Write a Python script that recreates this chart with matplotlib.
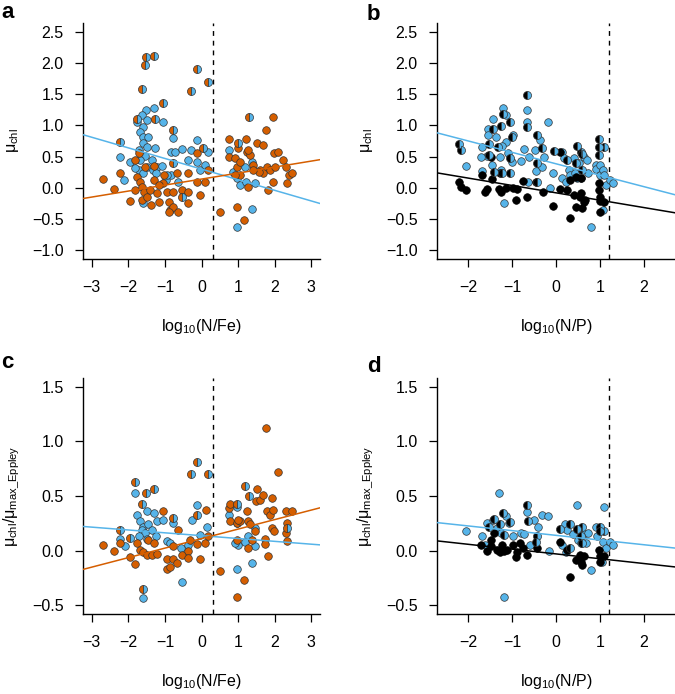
import numpy as np
import matplotlib.pyplot as plt

plt.rcParams['font.family'] = ['Liberation Sans', 'DejaVu Sans']
plt.rcParams['mathtext.fontset'] = 'custom'
plt.rcParams['mathtext.rm'] = 'Liberation Sans'

ORANGE = '#D55E00'
BLUE = '#56B4E9'
BLACK = '#000000'

# --- data (x, y) ---
# panel a: mu_chl vs log10(N/Fe)
a_split = [(-1.51, 2.10), (-1.30, 2.11), (-1.55, 1.97), (-1.63, 1.59), (-0.13, 1.91), (0.19, 1.69),
           (-0.29, 1.55), (-1.04, 1.36), (-1.26, 1.10), (-1.75, 1.10), (-0.77, 0.93), (1.31, 1.13),
           (-2.24, 0.74), (0.99, 0.72), (-0.77, 0.39), (-0.54, -0.15), (0.05, 0.64)]
a_blue = [(-1.52, 1.25), (-1.63, 1.17), (-1.31, 1.28), (-1.77, 1.06), (-1.50, 1.09), (-1.61, 0.98),
          (-1.68, 0.90), (-1.59, 0.82), (-1.45, 0.82), (-1.61, 0.72), (-1.50, 0.66), (-1.70, 0.60),
          (-1.54, 0.51), (-1.27, 0.64), (-1.36, 0.44), (-1.68, 0.45), (-1.50, 0.34), (-1.33, 0.29),
          (-1.22, 0.34), (-1.09, 0.35), (-1.72, 0.29), (-1.59, 0.24), (-1.24, 0.23), (-2.23, 0.50),
          (-1.95, 0.42), (-2.11, 0.13), (-1.81, 0.32), (-1.04, 1.05), (-0.77, 0.80), (-0.83, 0.57),
          (-0.72, 0.57), (-0.54, 0.62), (-0.29, 0.61), (-0.13, 0.76), (-0.13, 0.42), (-0.36, 0.45),
          (-0.04, 0.28), (0.10, 0.36), (0.19, 0.58), (-0.97, 0.13), (-0.84, 0.21), (-0.95, 0.20),
          (-0.63, 0.10), (-1.61, -0.25), (0.74, 0.61), (0.87, 0.25), (0.98, 0.16), (1.04, 0.05),
          (1.18, 0.33), (1.22, 0.10), (1.38, 0.42), (1.47, 0.08), (1.38, -0.34), (0.98, -0.62)]
a_orange = [(-2.70, 0.14), (-2.38, -0.02), (-2.23, 0.24), (-1.95, -0.21), (-1.81, -0.04), (-1.77, 0.18),
            (-1.68, 0.10), (-1.63, 0.02), (-1.57, -0.06), (-1.63, -0.19), (-1.50, -0.14), (-1.40, -0.03),
            (-1.31, 0.13), (-1.22, -0.08), (-1.39, -0.27), (-1.15, -0.23), (-1.04, 0.08), (-0.95, -0.06),
            (-0.90, -0.22), (-0.86, -0.35), (-0.77, -0.30), (-0.90, -0.38), (-0.63, -0.39), (-0.77, -0.06),
            (-0.54, -0.03), (-0.36, -0.06), (-0.36, -0.24), (-0.36, 0.23), (-0.13, 0.10), (-0.04, -0.11),
            (-0.13, 0.55), (0.10, 0.10), (0.19, 0.28), (-1.02, 0.21), (-1.31, 0.35), (-1.81, 0.45),
            (-1.72, 0.56), (-1.54, 0.34), (-1.15, 0.05), (-0.68, 0.24), (0.51, -0.38), (0.74, 0.78),
            (0.74, 0.50), (0.92, 0.48), (0.96, 0.34), (1.05, 0.42), (1.05, 0.21), (0.92, 0.21),
            (1.22, 0.78), (1.24, 0.58), (1.33, 0.53), (1.42, 0.37), (1.51, 0.72), (1.60, 0.29),
            (1.69, 0.68), (1.77, 0.93), (1.79, 0.34), (1.88, 0.29), (1.95, 0.10), (1.97, 0.56),
            (1.95, 1.14), (2.10, 0.58), (2.24, 0.45), (2.31, 0.34), (2.38, 0.21), (2.33, 0.08),
            (2.47, 0.24), (1.28, 0.02), (1.83, -0.04), (0.98, -0.30), (1.15, -0.51), (1.28, 0.61),
            (0.99, 0.64), (1.69, 0.24), (2.01, 0.34), (1.56, 0.26), (1.42, 0.29)]

# panel b: mu_chl vs log10(N/P)
b_split = [(-0.66, 1.48), (-1.21, 1.19), (-1.25, 0.99), (-1.04, 1.06), (-0.67, 0.97), (-1.00, 0.82),
           (-0.43, 0.85), (-0.31, 0.64), (-1.43, 0.95), (-1.53, 0.70), (-2.21, 0.70), (-2.17, 0.61),
           (-1.32, 0.66), (-0.44, 0.40), (-0.05, 0.59), (0.24, 0.45), (0.47, 0.67), (0.56, 0.58),
           (0.59, 0.29), (0.99, 0.78), (0.99, 0.66), (0.99, 0.53), (1.09, 0.66), (-0.43, 0.10),
           (-1.23, 0.23), (-1.04, 0.24), (-1.42, 0.26), (0.46, 0.40), (0.59, 0.54), (-1.53, 0.53),
           (-1.05, 0.48)]
b_blue = [(-0.66, 1.25), (-0.66, 1.05), (-1.20, 1.28), (-1.15, 1.17), (-1.44, 1.10), (-1.55, 0.94),
          (-1.55, 0.85), (-1.36, 0.81), (-0.97, 0.85), (-0.19, 1.06), (-1.15, 0.73), (-1.24, 0.67),
          (-1.57, 0.51), (-1.28, 0.50), (-1.10, 0.56), (-0.74, 0.62), (-0.62, 0.50), (-0.48, 0.61),
          (-0.36, 0.77), (-0.28, 0.50), (-0.79, 0.43), (-1.00, 0.42), (-1.45, 0.37), (-1.70, 0.50),
          (-2.05, 0.35), (-1.68, 0.27), (-1.26, 0.29), (-0.46, 0.27), (-0.31, 0.34), (-0.06, 0.24),
          (0.14, 0.58), (0.18, 0.48), (0.13, 0.15), (0.22, 0.10), (0.30, 0.29), (0.32, 0.21),
          (0.41, 0.48), (0.43, 0.24), (0.52, 0.40), (0.48, 0.16), (0.58, 0.16), (0.63, 0.50),
          (0.71, 0.45), (0.72, 0.24), (0.91, 0.36), (0.92, 0.30), (1.01, 0.37), (1.01, 0.21),
          (1.07, 0.29), (1.09, 0.21), (1.13, 0.05), (1.23, 0.13), (1.29, 0.08), (1.07, -0.35),
          (-0.14, 0.00), (-1.19, -0.25), (0.80, -0.62), (-0.64, 0.10), (-1.68, 0.66)]
b_black = [(-2.21, 0.10), (-2.16, 0.01), (-2.06, -0.03), (-1.68, 0.20), (-1.57, -0.02), (-1.61, -0.06),
           (-1.45, 0.14), (-1.30, -0.02), (-1.26, -0.06), (-1.15, 0.00), (-0.97, 0.00), (-0.88, -0.02),
           (-0.90, -0.19), (-0.66, -0.14), (-0.75, 0.11), (-0.45, 0.09), (-0.30, -0.07), (-0.06, -0.29),
           (0.09, -0.02), (0.25, -0.04), (0.33, -0.48), (0.42, -0.11), (0.46, -0.31), (0.54, -0.14),
           (0.59, -0.32), (0.63, -0.22), (0.56, -0.09), (0.98, -0.03), (0.99, 0.08), (1.00, -0.14),
           (1.01, -0.21), (1.09, -0.22), (1.01, -0.38), (-1.49, 0.50), (-1.28, 0.23), (0.56, 0.16),
           (0.45, 0.18), (0.67, -0.19), (0.10, 0.58), (0.33, 0.13)]

# panel c: mu_chl / mu_max_Eppley vs log10(N/Fe)
c_split = [(-1.81, 0.63), (-1.53, 0.53), (-1.30, 0.56), (-1.63, 0.43), (-0.11, 0.81), (-0.29, 0.70),
           (0.19, 0.70), (-2.23, 0.19), (-0.77, 0.30), (-1.59, -0.35), (1.19, 0.59), (1.31, 0.50),
           (-0.13, 0.33), (-1.95, 0.12), (2.33, 0.21), (0.97, 0.43)]
c_blue = [(-1.81, 0.53), (-1.75, 0.33), (-1.68, 0.27), (-1.59, 0.22), (-1.50, 0.36), (-1.63, 0.19),
          (-1.54, 0.16), (-1.45, 0.24), (-1.36, 0.19), (-1.72, 0.13), (-1.50, 0.11), (-1.30, 0.34),
          (-1.22, 0.27), (-1.24, 0.13), (-1.04, 0.28), (-0.95, 0.09), (-0.86, 0.07), (-0.77, 0.25),
          (-2.23, 0.11), (-2.09, 0.04), (-0.57, 0.02), (-0.36, 0.05), (-0.27, 0.28), (-0.13, 0.42),
          (-0.04, 0.14), (0.14, 0.22), (-1.59, -0.43), (-0.54, -0.29), (0.74, 0.33), (0.97, 0.40),
          (0.98, 0.25), (1.01, 0.05), (0.92, 0.07), (1.28, 0.13), (1.19, 0.08), (1.47, 0.21),
          (1.47, 0.04), (1.38, -0.11), (0.97, -0.17)]
c_orange = [(-2.70, 0.05), (-2.38, 0.00), (-2.23, 0.07), (-1.95, -0.06), (-1.81, -0.12), (-1.75, 0.07),
            (-1.68, 0.01), (-1.59, -0.01), (-1.50, -0.04), (-1.36, -0.04), (-1.22, -0.03), (-1.45, 0.10),
            (-1.31, 0.07), (-1.04, 0.36), (-0.95, -0.08), (-0.95, -0.17), (-0.86, -0.15), (-0.77, -0.08),
            (-0.66, -0.11), (-0.77, 0.04), (-0.63, 0.19), (-0.54, -0.04), (-0.36, 0.00), (-0.36, -0.07),
            (-0.31, 0.10), (-0.13, 0.06), (-0.04, -0.08), (0.10, 0.07), (0.13, 0.37), (0.19, 0.13),
            (0.51, -0.19), (0.74, 0.39), (0.77, 0.27), (0.97, 0.25), (0.98, 0.10), (1.04, 0.27),
            (0.97, -0.42), (1.15, -0.27), (1.24, 0.36), (1.28, 0.27), (1.33, 0.24), (1.28, 0.02),
            (1.38, 0.10), (1.47, 0.18), (1.50, 0.45), (1.51, 0.56), (1.60, 0.46), (1.69, 0.51),
            (1.77, 1.12), (1.79, 0.36), (1.74, 0.11), (1.74, 0.06), (1.83, -0.05), (1.88, 0.33),
            (1.92, 0.48), (1.95, 0.37), (1.92, 0.21), (1.97, 0.18), (2.10, 0.72), (2.31, 0.36),
            (2.35, 0.25), (2.31, 0.16), (2.35, 0.09), (2.47, 0.36), (0.78, 0.43), (1.01, 0.28)]

# panel d: mu_chl / mu_max_Eppley vs log10(N/P)
d_split = [(-0.66, 0.42), (-1.21, 0.34), (-1.04, 0.26), (-1.42, 0.29), (-1.53, 0.22), (-1.27, 0.24),
           (-0.64, 0.27), (-0.44, 0.13), (-0.45, 0.08), (0.09, 0.20), (0.33, 0.24), (0.47, 0.20),
           (0.59, 0.22), (0.56, 0.13), (1.01, 0.22), (1.01, 0.18), (1.09, 0.18), (-1.19, 0.14),
           (0.33, 0.02), (0.59, 0.07)]
d_blue = [(-1.30, 0.53), (-2.04, 0.18), (-1.68, 0.13), (-1.57, 0.25), (-1.44, 0.28), (-1.35, 0.21),
          (-1.26, 0.16), (-1.15, 0.32), (-1.07, 0.25), (-0.99, 0.13), (-0.79, 0.16), (-0.73, 0.15),
          (-0.66, 0.35), (-0.49, 0.28), (-0.41, 0.22), (-0.31, 0.33), (-0.19, 0.32), (-0.15, 0.00),
          (-0.60, 0.05), (-1.61, 0.05), (-1.19, -0.42), (0.20, 0.24), (0.25, 0.19), (0.14, 0.05),
          (0.22, -0.01), (0.47, 0.42), (0.39, 0.15), (0.50, 0.10), (0.63, 0.15), (0.69, 0.07),
          (0.72, 0.16), (0.58, 0.07), (0.91, 0.22), (0.94, 0.13), (1.09, 0.40), (1.07, 0.08),
          (1.13, 0.02), (1.23, 0.08), (1.29, 0.05), (1.05, -0.10), (0.80, -0.18)]
d_black = [(-1.71, 0.05), (-1.57, 0.00), (-1.49, 0.04), (-1.42, 0.16), (-1.35, 0.01), (-1.28, -0.01),
           (-1.23, 0.05), (-1.19, 0.00), (-1.11, 0.01), (-0.99, 0.05), (-0.88, -0.01), (-0.90, -0.06),
           (-0.75, 0.02), (-0.66, -0.04), (-0.44, 0.02), (0.09, 0.08), (0.25, 0.01), (0.33, -0.24),
           (0.46, -0.09), (0.54, -0.04), (0.59, -0.13), (0.64, -0.05), (0.56, -0.10), (0.98, 0.01),
           (1.00, -0.05), (1.01, -0.10), (1.09, -0.05), (-0.81, 0.07), (-1.49, 0.10)]

# fitted lines (intercept, slope) and threshold lines
a_fit_blue, a_fit_orange = (0.30, -0.170), (0.14, 0.096)
b_fit_blue, b_fit_black = (0.385, -0.183), (-0.08, -0.118)
c_fit_blue, c_fit_orange = (0.137, -0.026), (0.11, 0.087)
d_fit_blue, d_fit_black = (0.14, -0.043), (-0.03, -0.044)
nfe_threshold = 0.32
np_threshold = 1.204

fe_ticks = [-3, -2, -1, 0, 1, 2, 3]
p_ticks = [-2, -1, 0, 1, 2]
top_yticks = [-1.0, -0.5, 0.0, 0.5, 1.0, 1.5, 2.0, 2.5]
bottom_yticks = [-0.5, 0.0, 0.5, 1.0, 1.5]

W, H = 675, 694
FS = 11.5
fig = plt.figure(figsize=(W / 100, H / 100), dpi=100)


def add_axes(left, top, right, bottom):
    return fig.add_axes([left / W, 1 - bottom / H, (right - left) / W, (bottom - top) / H])


def style_axes(ax, xticks, yticks, xlim, ylim, xlabel, ylabel):
    ax.set_xlim(*xlim)
    ax.set_ylim(*ylim)
    for s in ['top', 'right']:
        ax.spines[s].set_visible(False)
    for s in ['left', 'bottom']:
        ax.spines[s].set_linewidth(1.0)
    ax.set_xticks(xticks)
    ax.set_xticklabels([str(t).replace('-', '\u2212') for t in xticks])
    ax.set_yticks(yticks)
    ax.set_yticklabels([f'{t:.1f}'.replace('-', '\u2212') for t in yticks])
    ax.tick_params(axis='x', length=6, width=0.9, pad=9, labelsize=FS)
    ax.tick_params(axis='y', length=6, width=0.9, pad=8, labelsize=FS)
    ax.set_xlabel(xlabel, fontsize=FS)
    ax.set_ylabel(ylabel, fontsize=FS)
    ax.xaxis.set_label_coords(0.5, -0.245)
    ax.yaxis.set_label_coords(-0.262, 0.5)


def draw_points(ax, full_a, col_a, full_b, col_b, split, left_col):
    xs, ys = zip(*full_b)
    ax.scatter(xs, ys, s=30, c=col_b, edgecolors='#333333', linewidths=0.5, zorder=3)
    xs, ys = zip(*full_a)
    edge = '#333333' if col_a != BLACK else BLACK
    ax.scatter(xs, ys, s=30, c=col_a, edgecolors=edge, linewidths=0.5, zorder=4)
    xs, ys = zip(*split)
    ax.plot(xs, ys, 'o', ms=5.8, fillstyle='left', markerfacecolor=left_col,
            markerfacecoloralt=BLUE, markeredgecolor='#333333', markeredgewidth=0.5,
            linestyle='none', zorder=5)


def draw_fit(ax, fit, color):
    b0, b1 = fit
    ax.axline((0, b0), slope=b1, color=color, lw=1.1, zorder=6)


panels = [
    (add_axes(83, 23, 320, 259), a_orange, ORANGE, a_blue, a_split, ORANGE,
     a_fit_blue, a_fit_orange, nfe_threshold, fe_ticks, top_yticks, (-3.24, 3.24), (-1.14, 2.64),
     'log$_\\mathregular{10}$(N/Fe)', 'μ$_\\mathregular{chl}$', 'a', (1, 13)),
    (add_axes(437, 23, 675, 259), b_black, BLACK, b_blue, b_split, BLACK,
     b_fit_blue, b_fit_black, np_threshold, p_ticks, top_yticks, (-2.71, 2.71), (-1.14, 2.64),
     'log$_\\mathregular{10}$(N/P)', 'μ$_\\mathregular{chl}$', 'b', (367, 14)),
    (add_axes(83, 378, 320, 614), c_orange, ORANGE, c_blue, c_split, ORANGE,
     c_fit_blue, c_fit_orange, nfe_threshold, fe_ticks, bottom_yticks, (-3.24, 3.24), (-0.58, 1.58),
     'log$_\\mathregular{10}$(N/Fe)', 'μ$_\\mathregular{chl}$/μ$_\\mathregular{max\\_Eppley}$', 'c', (1, 363)),
    (add_axes(437, 378, 675, 614), d_black, BLACK, d_blue, d_split, BLACK,
     d_fit_blue, d_fit_black, np_threshold, p_ticks, bottom_yticks, (-2.71, 2.71), (-0.58, 1.58),
     'log$_\\mathregular{10}$(N/P)', 'μ$_\\mathregular{chl}$/μ$_\\mathregular{max\\_Eppley}$', 'd', (367, 367)),
]

for (ax, pts_a, col_a, pts_b, split, left_col, fit_b, fit_a, thr, xt, yt, xl, yl,
     xlab, ylab, letter, lpos) in panels:
    style_axes(ax, xt, yt, xl, yl, xlab, ylab)
    draw_points(ax, pts_a, col_a, pts_b, BLUE, split, left_col)
    draw_fit(ax, fit_b, BLUE)
    draw_fit(ax, fit_a, col_a)
    ax.axvline(thr, color='black', lw=1.0, linestyle=(0, (3.5, 3.5)), zorder=2)
    fig.text(lpos[0] / W, 1 - lpos[1] / H, letter, fontsize=16, fontweight='bold',
             ha='left', va='center')

fig.savefig('out.png', dpi=100)
